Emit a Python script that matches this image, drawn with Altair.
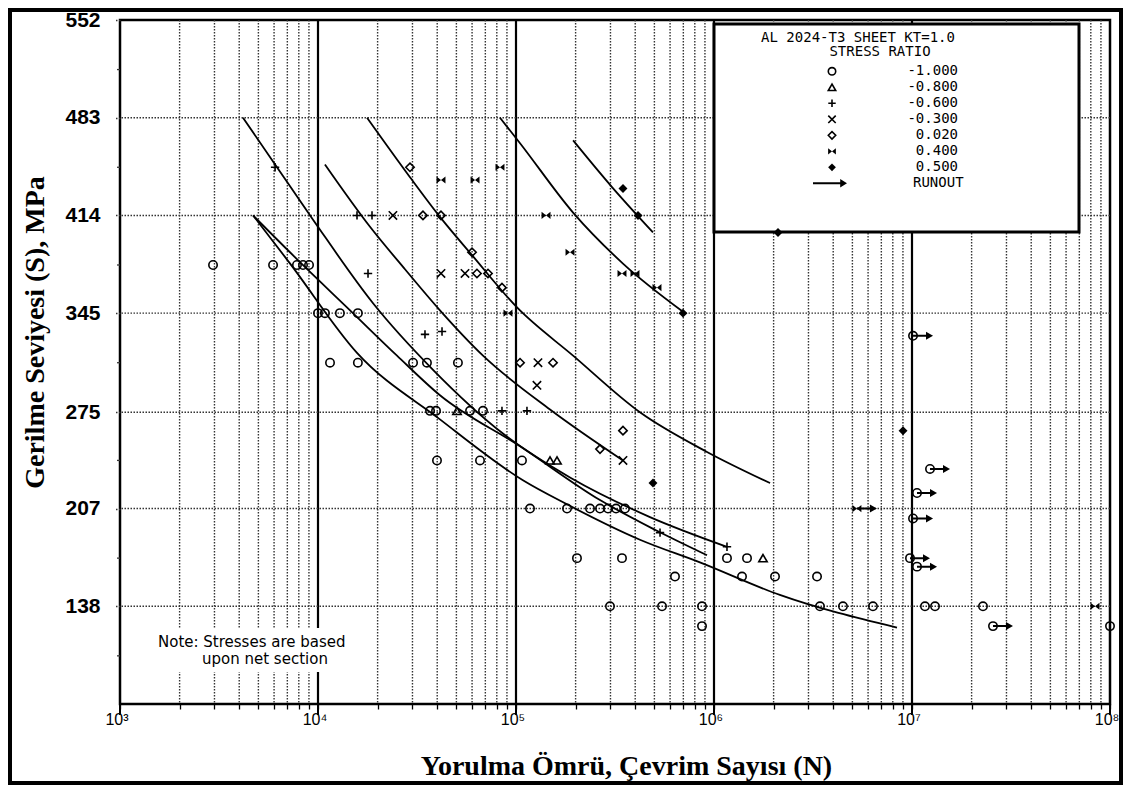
import altair as alt
import pandas as pd

# ---------------- axis ticks / labels ----------------
x_decade_values = [1000, 10000, 100000, 1000000, 10000000, 100000000]
x_decade_labels = ["10³", "10⁴", "10⁵", "10⁶", "10⁷", "10⁸"]
x_tick_values = [m * 10 ** k for k in range(3, 8) for m in range(1, 10)] + [100000000]
x_minor_grid = [m * 10 ** k for k in range(3, 8) for m in range(2, 10)]
x_decade_grid = [10000, 100000, 1000000, 10000000]
y_label_values = [138, 207, 275, 345, 414, 483, 552]
y_grid_values = [138, 207, 275, 345, 414, 483]
y_minor_ticks = [103, 172, 241, 310, 379, 448, 517]

# ---------------- S-N curves ----------------
c1_N = [4700, 7230, 15740, 41300, 108400, 181000, 422700, 849000, 2150000, 8400000]
c1_S = [414, 380, 317, 270, 227, 210, 185, 169, 146, 123]
c2_N = [4700, 8110, 14520, 25060, 41300, 104800, 265600, 503600, 922000]
c2_S = [414, 381, 347, 315, 287, 251, 213, 192, 174]
c3_N = [4180, 6070, 9440, 18970, 38100, 85900, 187400, 475000, 1163000]
c3_S = [483, 450, 411, 352, 305, 260, 229, 201, 180]
c4_N = [10840, 18310, 27500, 41300, 68130, 148500, 347000]
c4_S = [450, 406, 376, 347, 315, 277, 241]
c5_N = [17690, 29150, 41300, 59950, 101200, 194200, 422700, 922000, 1919000]
c5_S = [483, 441, 413, 386, 349, 315, 275, 247, 225]
c6_N = [83000, 104800, 194200, 347000, 697300]
c6_S = [483, 465, 416, 380, 346]
c7_N = [194200, 305400, 491800]
c7_S = [467, 434, 402]

# ---------------- test points by stress ratio ----------------
stress_ratio_labels = ["-1.000", "-0.800", "-0.600", "-0.300", "0.020", "0.400", "0.500", "RUNOUT"]
marker_codes = ["c", "t", "p", "x", "d", "b", "f"]

rm100_N = [2950, 5930, 7830, 8400, 9010,
           10000, 10840, 12900, 15900,
           11500, 15900, 30200, 35500, 50900,
           36800, 39450, 58600, 68130,
           39900, 65800, 107200,
           117700, 181000, 236500, 265600, 291500, 320000, 355300,
           203200, 343000, 1163000, 1468000,
           635300, 1385000, 2033000, 3314000,
           298300, 546400, 869800, 3430000, 4480000, 6350000, 11630000, 13070000, 22830000,
           869800, 100000000]
rm100_S = [379, 379, 379, 379, 379,
           345, 345, 345, 345,
           310, 310, 310, 310, 310,
           276, 276, 276, 276,
           241, 241, 241,
           207, 207, 207, 207, 207, 207, 207,
           172, 172, 172, 172,
           159, 159, 159, 159,
           138, 138, 138, 138, 138, 138, 138, 138, 138,
           124, 124]
rm080_N = [50350, 148500, 161100, 1768000]
rm080_S = [276, 241, 241, 172]
rm060_N = [6070, 15740, 18740, 17890, 34700, 42300, 84950, 113600, 533800, 1163000]
rm060_S = [448, 414, 414, 373, 330, 332, 276, 276, 190, 180]
rm030_N = [23900, 41800, 55260, 129100, 127600, 347000]
rm030_S = [414, 373, 373, 310, 294, 241]
r002_N = [29150, 33900, 41800, 59950, 63500, 72200, 84950, 104800, 153800, 265600, 347000]
r002_S = [448, 414, 414, 388, 373, 373, 363, 310, 310, 249, 262]
r040_N = [41800, 62100, 83000, 91100, 141800, 187400, 343000, 399000, 515300, 84000000]
r040_S = [439, 439, 448, 345, 414, 388, 373, 373, 363, 138]
r050_N = [347000, 413300, 697300, 491800, 2105000, 9010000]
r050_S = [433, 414, 345, 225, 402, 262]

runout_N = [10120000, 12330000, 10600000, 10120000, 5270000, 9770000, 10600000, 25650000]
runout_S = [329, 235, 218, 200, 207, 172, 166, 124]
runout_marker = ["c", "c", "c", "c", "b", "c", "c", "c"]

# ---------------- build tables ----------------
curves = [("a", c1_N, c1_S), ("b", c2_N, c2_S), ("c", c3_N, c3_S), ("d", c4_N, c4_S),
          ("e", c5_N, c5_S), ("f", c6_N, c6_S), ("g", c7_N, c7_S)]
curve_df = pd.DataFrame([{"curve": n, "N": x, "S": y} for n, xs_, ys_ in curves for x, y in zip(xs_, ys_)])

point_sets = [("c", rm100_N, rm100_S), ("t", rm080_N, rm080_S), ("p", rm060_N, rm060_S),
              ("x", rm030_N, rm030_S), ("d", r002_N, r002_S), ("b", r040_N, r040_S),
              ("f", r050_N, r050_S)]
pts = [{"code": c, "N": x, "S": y} for c, xs_, ys_ in point_sets for x, y in zip(xs_, ys_)]
pts += [{"code": m, "N": x, "S": y} for m, x, y in zip(runout_marker, runout_N, runout_S)]
pts_df = pd.DataFrame(pts)
run_df = pd.DataFrame({"N": runout_N, "S": runout_S})
xlab_df = pd.DataFrame({"N": x_decade_values, "label": x_decade_labels})

PLUS = "M-1,0L1,0M0,-1L0,1"
XSHAPE = "M-1,-1L1,1M-1,1L1,-1"
BOWTIE = "M-1,-0.8L1,0.8L1,-0.8L-1,0.8Z"
ARROW = "M0,-0.1L1.3,-0.1L1.3,-0.4L2,0L1.3,0.4L1.3,0.1L0,0.1Z"
LEG_ARROW = "M-1,-0.06L0.6,-0.06L0.6,-0.25L1,0L0.6,0.25L0.6,0.06L-1,0.06Z"
shape_range = ["circle", "triangle-up", PLUS, XSHAPE, "diamond", BOWTIE, "diamond"]
open_codes = ["c", "t", "p", "x", "d"]
filled_codes = ["b", "f"]


# legend rows placed in data space (row centres at page y = 71 + 16 i)
def py_to_S(py):
    return 69 + (704 - py) * 483 / 684


legend_df = pd.DataFrame({
    "row": list(range(8)),
    "label": stress_ratio_labels,
    "code": marker_codes + ["arrow"],
    "S": [py_to_S(71.3 + 16 * i) for i in range(8)],
})

# ---------------- scales & axes ----------------
xs = alt.Scale(type="log", domain=[1000, 100000000], nice=False)
ys = alt.Scale(domain=[69, 552], nice=False, zero=False)

x_axis = alt.Axis(
    values=x_tick_values, labels=False, domain=False, grid=False,
    tickColor="black", tickWidth=1.3, tickSize=5,
    title="Yorulma Ömrü, Çevrim Sayısı (N)", titleFont="Liberation Serif",
    titleFontSize=28, titleFontWeight="bold", titleColor="black",
    titleX=506, titleY=70, titleAlign="center", titleBaseline="alphabetic",
)
y_axis = alt.Axis(
    values=y_label_values, format="d",
    domain=False, grid=False,
    tickColor="#333333", tickWidth=1.3, tickSize=6, tickDash=[1.5, 1.5],
    labelFont="Liberation Sans", labelFontWeight="bold", labelFontSize=21,
    labelColor="black", labelPadding=14, labelFlush=False,
    title="Gerilme Seviyesi (S), MPa", titleFont="Liberation Serif",
    titleFontSize=28, titleFontWeight="bold", titleColor="black",
    titleX=-77, titleY=312, titleAngle=270, titleAlign="center", titleBaseline="alphabetic",
)

X = alt.X("N:Q", scale=xs, axis=x_axis)
Y = alt.Y("S:Q", scale=ys, axis=y_axis)

one = pd.DataFrame({"a": [0]})

frame = alt.Chart(one).mark_rect(fillOpacity=0, stroke="black", strokeWidth=4).encode(
    x=alt.value(-110), x2=alt.value(1001), y=alt.value(-10), y2=alt.value(763))

grid_minor = alt.Chart(pd.DataFrame({"N": x_minor_grid})).mark_rule(
    color="#333333", strokeWidth=1.4, strokeDash=[1.5, 1.5]).encode(x=X)
grid_decade = alt.Chart(pd.DataFrame({"N": x_decade_grid})).mark_rule(
    color="black", strokeWidth=2.2).encode(x=X)
decade_ticks = alt.Chart(pd.DataFrame({"N": x_decade_values})).mark_rule(
    color="black", strokeWidth=2).encode(x=X, y=alt.value(684), y2=alt.value(695))
grid_h = alt.Chart(pd.DataFrame({"S": y_grid_values})).mark_rule(
    color="#333333", strokeWidth=1.4, strokeDash=[1.5, 1.5]).encode(y=Y)
minor_y_ticks = alt.Chart(pd.DataFrame({"S": y_minor_ticks})).mark_rule(
    color="#333333", strokeWidth=1.3).encode(y=Y, x=alt.value(-3), x2=alt.value(0))

x_labels = alt.Chart(xlab_df).mark_text(
    font="Liberation Sans", fontSize=16, align="center", baseline="top", color="black", dx=-3
).encode(x=X, y=alt.value(692), text="label:N")

lines = alt.Chart(curve_df).mark_line(color="black", strokeWidth=1.8, interpolate="monotone").encode(
    x=X, y=Y, detail="curve:N", order="N:Q")

legend_box = alt.Chart(one).mark_rect(fill="white", stroke="black", strokeWidth=3).encode(
    x=alt.value(594), x2=alt.value(959), y=alt.value(4), y2=alt.value(212))

note_box = alt.Chart(one).mark_rect(fill="white").encode(
    x=alt.value(30), x2=alt.value(236), y=alt.value(608), y2=alt.value(652))
note1 = alt.Chart(one).mark_text(text="Note: Stresses are based", font="DejaVu Sans", fontSize=15,
                                 align="left", baseline="alphabetic", color="black").encode(
    x=alt.value(38), y=alt.value(627))
note2 = alt.Chart(one).mark_text(text="upon net section", font="DejaVu Sans", fontSize=15,
                                 align="left", baseline="alphabetic", color="black").encode(
    x=alt.value(82), y=alt.value(644))

shape_enc = alt.Shape("code:N", scale=alt.Scale(domain=marker_codes, range=shape_range), legend=None)

open_pts = alt.Chart(pts_df).transform_filter(
    alt.FieldOneOfPredicate(field="code", oneOf=open_codes)
).mark_point(filled=False, color="black", strokeWidth=1.6, size=70, opacity=1).encode(
    x=X, y=Y, shape=shape_enc)

filled_pts = alt.Chart(pts_df).transform_filter(
    alt.FieldOneOfPredicate(field="code", oneOf=filled_codes)
).mark_point(filled=True, color="black", size=80, opacity=1).encode(
    x=X, y=Y, shape=shape_enc)

arrows = alt.Chart(run_df).mark_point(shape=ARROW, filled=True, color="black", size=400, opacity=1).encode(
    x=X, y=Y)

leg_title1 = alt.Chart(one).mark_text(text="AL 2024-T3 SHEET KT=1.0", font="DejaVu Sans Mono", fontSize=14,
                                      align="center", baseline="alphabetic", color="black").encode(
    x=alt.value(738), y=alt.value(22))
leg_title2 = alt.Chart(one).mark_text(text="STRESS RATIO", font="DejaVu Sans Mono", fontSize=14,
                                      align="center", baseline="alphabetic", color="black").encode(
    x=alt.value(760), y=alt.value(36))

leg_open = alt.Chart(legend_df).transform_filter(
    alt.FieldOneOfPredicate(field="code", oneOf=open_codes)
).mark_point(filled=False, color="black", strokeWidth=1.6, size=55, opacity=1).encode(
    x=alt.value(712), y=Y, shape=shape_enc)
leg_filled = alt.Chart(legend_df).transform_filter(
    alt.FieldOneOfPredicate(field="code", oneOf=filled_codes)
).mark_point(filled=True, color="black", size=60, opacity=1).encode(
    x=alt.value(712), y=Y, shape=shape_enc)
leg_arrow = alt.Chart(legend_df).transform_filter(alt.datum.code == "arrow").mark_point(
    shape=LEG_ARROW, filled=True, color="black", size=1156, opacity=1).encode(
    x=alt.value(710), y=Y)
leg_nums = alt.Chart(legend_df).transform_filter(alt.datum.row < 7).mark_text(
    font="DejaVu Sans Mono", fontSize=14, align="right", baseline="middle", color="black").encode(
    x=alt.value(838), y=Y, text="label:N")
leg_run = alt.Chart(legend_df).transform_filter(alt.datum.row == 7).mark_text(
    font="DejaVu Sans Mono", fontSize=14, align="left", baseline="middle", color="black").encode(
    x=alt.value(793), y=Y, text="label:N")

chart = alt.layer(
    frame, grid_minor, grid_decade, decade_ticks, grid_h, minor_y_ticks, x_labels, lines,
    legend_box, note_box, note1, note2,
    open_pts, filled_pts, arrows,
    leg_title1, leg_title2, leg_open, leg_filled, leg_arrow, leg_nums, leg_run,
).properties(
    width=990, height=684,
    padding={"left": 112, "top": 12, "right": 13, "bottom": 81},
    autosize=alt.AutoSizeParams(type="none"),
    background="white",
).configure_view(stroke="black", strokeWidth=2.5)

chart.save("out.html", embed_options={"renderer": "svg", "actions": False})
